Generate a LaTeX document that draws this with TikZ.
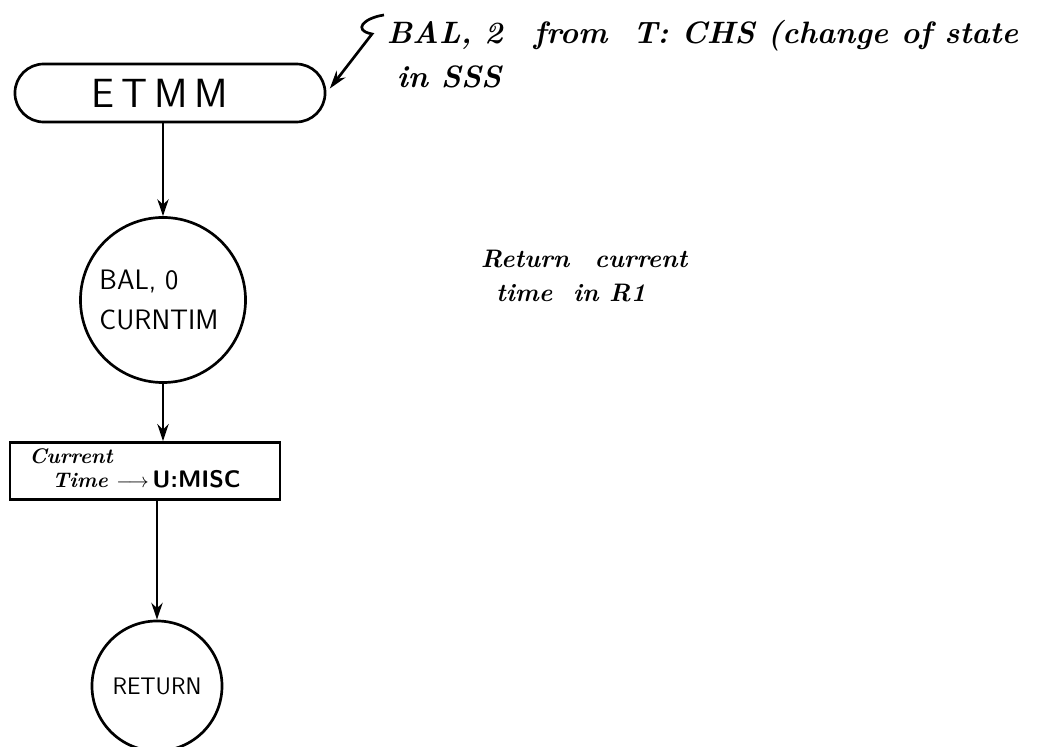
\documentclass[tikz,border=0pt]{standalone}
\usepackage{fontspec}
\usetikzlibrary{arrows.meta}
\tikzset{
  flowline/.style={line width=1.9pt,-{Stealth[length=12pt,width=8pt]}},
  termbox/.style={draw,line width=1.9pt,rounded corners=0.72cm,minimum width=7.75cm,minimum height=1.45cm,
    font=\sffamily\fontsize{29}{30}\selectfont},
  callcircle/.style={draw,circle,line width=1.9pt,inner sep=0pt,align=left,
    font=\sffamily\fontsize{20}{28}\selectfont},
  procbox/.style={draw,line width=1.9pt,minimum width=6.75cm,minimum height=1.3cm},
  note/.style={anchor=west,font=\itshape\bfseries\fontsize{22}{28}\selectfont},
  smallnote/.style={anchor=west,align=left,font=\itshape\bfseries\fontsize{18}{24}\selectfont}
}
\begin{document}
\begin{tikzpicture}[x=0.025cm,y=-0.025cm]
\useasboundingbox (0,0) rectangle (1048,747);
% flow
\node[termbox] (etmm) at (170,93) {E\,T\,M\,M\hspace*{0.5cm}};
\node[callcircle,minimum size=4.125cm] (curntim) at (163,300) {BAL, 0\\CURNTIM\hspace*{0.2cm}};
\node[procbox] (misc) at (145,471) {\fontsize{15}{17}\selectfont\itshape\bfseries
  \begin{tabular}[b]{@{}l@{}}Current\\\hspace*{1.1em}Time\end{tabular}\,$\longrightarrow$\,{\upshape\sffamily\fontsize{17}{17}\selectfont U:MISC}\hspace*{0.5cm}};
\node[callcircle,minimum size=3.25cm,font=\sffamily\fontsize{17}{20}\selectfont] (ret) at (157,686) {RETURN};
\draw[flowline] (etmm.south -| curntim.north) -- (curntim.north);
\draw[flowline] (curntim.south) -- (misc.north -| curntim.south);
\draw[flowline] (misc.south -| ret.north) -- (ret.north);
% notes
\node[note] (srcnote) at (382,36) {BAL, 2\quad from\ \ T: CHS (change of state};
\node[note] (sssnote) at (392,77) {in SSS};
\coordinate (sqtop) at (384,15);
\draw[line width=1.9pt,-{Stealth[length=13pt,width=8pt]},shorten >=4pt] (sqtop) .. controls (364,18) and (352,30) .. (372,34) -- (etmm.east);
\node[smallnote] (retnote) at (476,276) {Return\quad current\\\hspace*{0.6em}time\ \ in R1};
\end{tikzpicture}
\end{document}
